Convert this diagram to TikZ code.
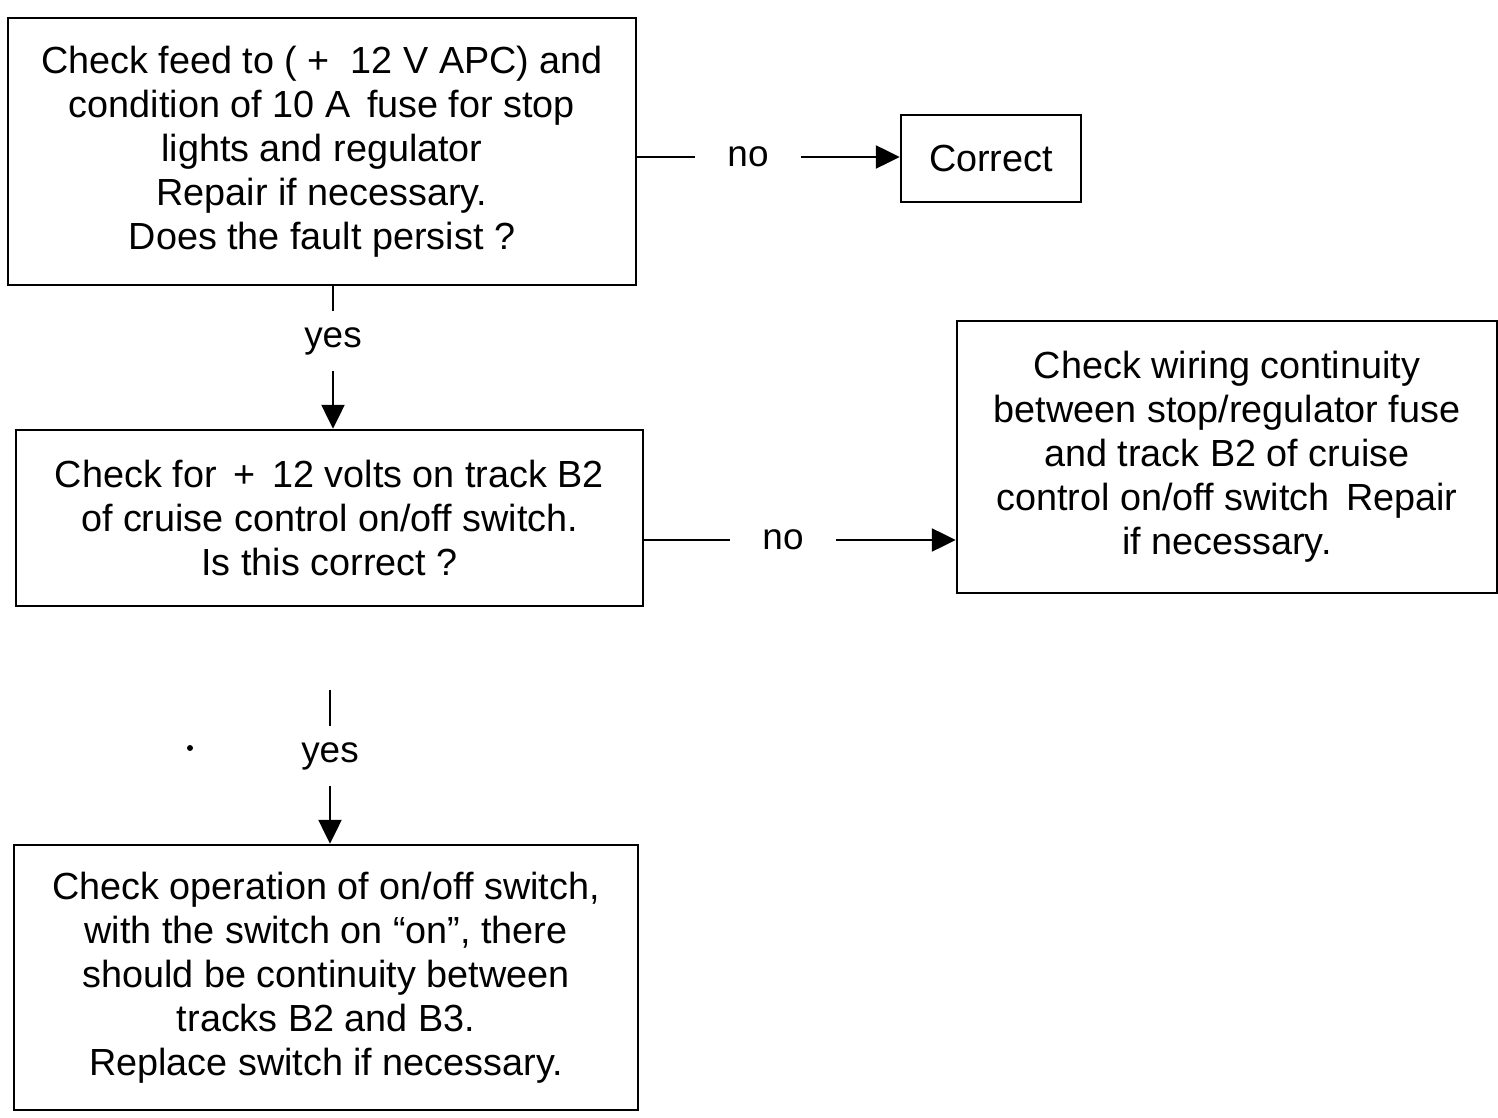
\documentclass[tikz,border=0pt]{standalone}
\usepackage{fontspec}
\setmainfont{Liberation Sans}
\usetikzlibrary{arrows.meta}
\begin{document}
\begin{tikzpicture}[x=0.02cm,y=-0.02cm,
  line width=1.4pt,
  box/.style={draw,rectangle,align=center,inner sep=0pt,
    font=\fontsize{21.5}{25}\selectfont},
  lbl/.style={inner xsep=0.62cm,inner ysep=0.3cm,font=\fontsize{21}{25}\selectfont},
  arr/.style={-{Triangle[length=0.48cm,width=0.46cm]}}]
\useasboundingbox (0,0) rectangle (1498,1118);

% decision and action boxes
\node[box,minimum width=628*0.02cm,minimum height=267*0.02cm] (b1) at (322,151.5)
  {Check feed to (\;+\;\;12 V APC) and\\condition of 10 A\, fuse for stop\\lights and regulator\\Repair if necessary.\\Does the fault persist ?};
\node[box,minimum width=180*0.02cm,minimum height=87*0.02cm] (cor) at (991,158.5) {Correct};
\node[box,minimum width=627*0.02cm,minimum height=176*0.02cm] (b2) at (329.5,518)
  {Check for\, +\, 12 volts on track B2\\of cruise control on/off switch.\\Is this correct ?};
\node[box,minimum width=540*0.02cm,minimum height=272*0.02cm] (b3) at (1227,457)
  {Check wiring continuity\\between stop/regulator fuse\\and track B2 of cruise\\control on/off switch\, Repair\\if necessary.};
\node[box,minimum width=624*0.02cm,minimum height=265*0.02cm] (b4) at (326,977.5)
  {Check operation of on/off switch,\\with the switch on ``on'', there\\should be continuity between\\tracks B2 and B3.\\Replace switch if necessary.};

% branch labels
\node[lbl] (no1) at (748,157) {no};
\node[lbl] (no2) at (783,540) {no};
\node[lbl] (yes1) at (333,341) {yes};
\node[lbl] (yes2) at (330,756) {yes};
\coordinate (stub) at (330,690);

% connectors
\draw (b1.east |- no1) -- (no1.west);
\draw[arr] (no1.east) -- (cor.west |- no1);
\draw (b2.east |- no2) -- (no2.west);
\draw[arr] (no2.east) -- (b3.west |- no2);
\draw (b1.south -| yes1) -- (yes1.north);
\draw[arr] (yes1.south) -- (b2.north -| yes1);
\draw (stub) -- (yes2.north);
\draw[arr] (yes2.south) -- (b4.north -| yes2);

% stray mark
\fill (190,748) circle (3);
\end{tikzpicture}
\end{document}
